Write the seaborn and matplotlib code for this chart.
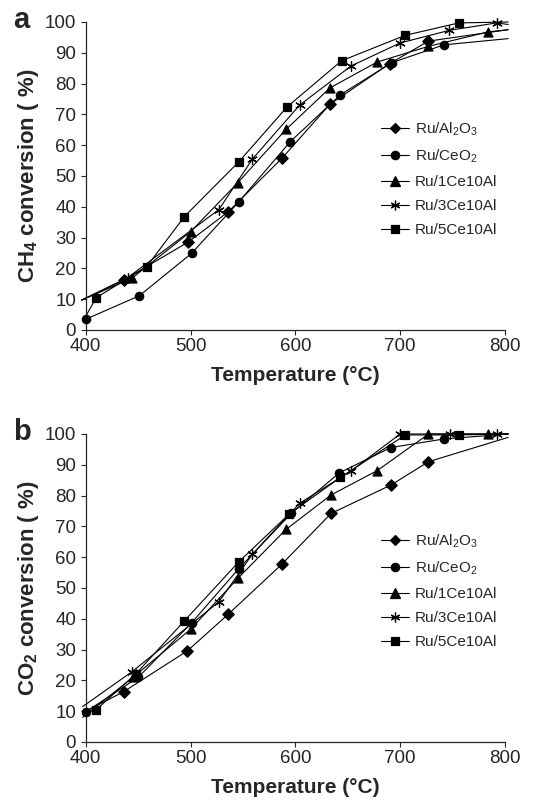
import pandas as pd
import matplotlib.pyplot as plt
import seaborn as sns
from matplotlib.lines import Line2D

series = ["Ru/Al$_2$O$_3$", "Ru/CeO$_2$", "Ru/1Ce10Al", "Ru/3Ce10Al", "Ru/5Ce10Al"]
marker_shapes = ["D", "o", "^", (6, 2, 0), "s"]

# panel a: CH4 conversion
ch4_temp = [
    [436, 498, 536, 587, 633, 690, 727],
    [400, 451, 501, 546, 595, 643, 692, 742],
    [444, 500, 545, 591, 633, 678, 727, 784],
    [440, 527, 559, 604, 653, 700, 747, 792],
    [410, 458, 494, 546, 592, 644, 705, 756],
]
ch4_conv = [
    [16.2, 28.6, 38.4, 55.7, 73.3, 86.5, 93.8],
    [3.5, 11.1, 24.9, 41.6, 61.1, 76.4, 86.8, 92.6],
    [16.8, 31.9, 47.8, 65.1, 78.6, 87.0, 92.1, 96.8],
    [17.0, 39.1, 55.5, 73.0, 85.7, 93.2, 97.3, 99.7],
    [10.5, 20.5, 36.8, 54.6, 72.4, 87.4, 95.7, 99.7],
]
# where the drawn curves start (temp, conv) and where they reach the right edge
ch4_curve_start = [(396, 9.7), (400, 3.5), (396, 9.7), (396, 9.7), (400, 4.5)]
ch4_curve_end = [97.5, 94.6, 97.5, 99.2, 100.0]

# panel b: CO2 conversion
co2_temp = [
    [436, 497, 536, 587, 634, 691, 727],
    [400, 450, 501, 546, 596, 642, 691, 742],
    [445, 500, 545, 591, 634, 678, 727, 784],
    [444, 527, 559, 604, 653, 700, 748, 792],
    [410, 448, 494, 546, 594, 643, 705, 756],
]
co2_conv = [
    [16.3, 29.6, 41.5, 57.7, 74.2, 83.4, 91.0],
    [9.8, 21.0, 38.7, 56.3, 74.2, 87.4, 95.6, 98.4],
    [21.0, 36.6, 53.1, 69.0, 80.2, 88.1, 100.0, 100.0],
    [22.8, 45.5, 61.0, 77.5, 88.0, 100.0, 100.0, 100.0],
    [10.5, 22.2, 39.3, 58.5, 74.0, 85.9, 99.7, 99.7],
]
co2_curve_start = [(400, 10.0), (400, 9.8), (397, 8.0), (397, 11.5), (400, 9.5)]
co2_curve_end = [98.9, 100.0, 100.0, 100.0, 100.0]

sns.set_style("ticks")
plt.rcParams['font.family'] = ['Liberation Sans', 'DejaVu Sans']
plt.rcParams['mathtext.fontset'] = 'custom'
plt.rcParams['mathtext.rm'] = 'Liberation Sans'
plt.rcParams['mathtext.it'] = 'Liberation Sans:italic'
plt.rcParams['mathtext.bf'] = 'Liberation Sans:bold'

fig = plt.figure(figsize=(5.43, 8), dpi=100)
ax_a = fig.add_axes([0.158, 0.5875, 0.772, 0.385])
ax_b = fig.add_axes([0.158, 0.0725, 0.772, 0.385])


def draw_panel(ax, temps, convs, starts, ends, ylabel, letter):
    rows, pts = [], []
    for i, name in enumerate(series):
        xs = [starts[i][0]] + temps[i] + [803]
        ys = [starts[i][1]] + convs[i] + [ends[i]]
        rows += [{"series": name, "T": x, "X": y} for x, y in zip(xs, ys)]
        pts.append(pd.DataFrame({"T": temps[i], "X": convs[i]}))
    lines = pd.DataFrame(rows)
    sns.lineplot(data=lines, x="T", y="X", units="series", estimator=None,
                 sort=False, color="black", linewidth=0.8, ax=ax)
    sizes = [34, 36, 42, 48, 32]
    for i, name in enumerate(series):
        sns.scatterplot(data=pts[i], x="T", y="X", marker=marker_shapes[i],
                        s=sizes[i], color="black", edgecolor="black",
                        linewidth=0.9, ax=ax, zorder=3)
    for ln in ax.lines:
        ln.set_clip_on(False)
    for c in ax.collections:
        c.set_clip_on(False)

    ax.set_xlim(400, 800)
    ax.set_ylim(0, 100)
    ax.set_xticks(range(400, 801, 100))
    ax.set_yticks(range(0, 101, 10))
    ax.tick_params(labelsize=13.5, length=3.5, width=0.8)
    ax.tick_params(axis="y", pad=3.5)
    ax.tick_params(axis="x", pad=2)
    sns.despine(ax=ax)
    for sp in ax.spines.values():
        sp.set_linewidth(0.9)
    ax.set_xlabel("Temperature (°C)", fontsize=15, fontweight="bold", labelpad=8)
    ax.set_ylabel(ylabel, fontsize=16, fontweight="bold", labelpad=3)
    ax.text(-0.153, 1.005, letter, transform=ax.transAxes, fontsize=21,
            fontweight="bold", va="center", ha="center")

    handles = [Line2D([], [], color="black", lw=0.8, marker=m,
                      markersize=ms, markerfacecolor="black", markeredgewidth=0.9)
               for m, ms in zip(marker_shapes, [5.5, 6, 6.5, 7, 5.6])]
    ax.legend(handles, series, loc="upper left", bbox_to_anchor=(0.69, 0.70),
              frameon=False, fontsize=11, handlelength=1.8, handletextpad=0.4,
              labelspacing=0.65, borderaxespad=0)


draw_panel(ax_a, ch4_temp, ch4_conv, ch4_curve_start, ch4_curve_end,
           r"CH$_\mathbf{4}$ conversion ( %)", "a")
draw_panel(ax_b, co2_temp, co2_conv, co2_curve_start, co2_curve_end,
           r"CO$_\mathbf{2}$ conversion ( %)", "b")

plt.savefig("out.png", dpi=100)
